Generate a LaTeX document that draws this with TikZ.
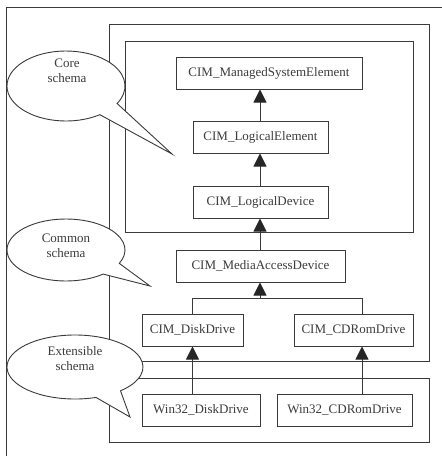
\documentclass[tikz,border=0pt]{standalone}
\usepackage{fontspec}
\setmainfont{Liberation Serif}
\usetikzlibrary{arrows.meta}
\definecolor{ink}{HTML}{3A3A3A}
\definecolor{txt}{HTML}{3C3C3C}
\tikzset{
  frame/.style={draw=ink, line width=0.9pt},
  cls/.style={draw=ink, line width=1pt, fill=white, text=txt, minimum height=32pt, inner sep=0pt,
    font=\fontsize{13}{15}\selectfont},
  conn/.style={draw=ink, line width=1pt},
  inh/.style={conn, -{Triangle[width=13pt,length=13pt]}, arrows={-{Triangle[width=13pt,length=13pt,color=black!85]}}},
  bubble/.style={draw=ink, line width=0.9pt, fill=white},
  btxt/.style={text=txt, align=center, font=\fontsize{13}{15}\selectfont, inner sep=0pt}
}
\begin{document}
\begin{tikzpicture}[x=1pt,y=-1pt]
\useasboundingbox (0,0) rectangle (442,456);
\fill[white] (0,0) rectangle (442,456);
% frames
\draw[frame] (6,470) -- (6,7) -- (460,7);
\draw[frame] (109,24) rectangle (429,361);
\draw[frame] (125,41) rectangle (413,232);
\draw[frame] (109,378) rectangle (429,442);
% classes
\node[cls, minimum width=186pt] (mse) at (269,73) {CIM\_ManagedSystemElement};
\node[cls, minimum width=135pt] (le) at (260.5,137) {CIM\_LogicalElement};
\node[cls, minimum width=135pt] (ld) at (260.5,202) {CIM\_LogicalDevice};
\node[cls, minimum width=169pt] (mad) at (260.5,266) {CIM\_MediaAccessDevice};
\node[cls, minimum width=101pt] (dd) at (192.5,330) {CIM\_DiskDrive};
\node[cls, minimum width=119pt] (cd) at (353.5,330) {CIM\_CDRomDrive};
\node[cls, minimum width=118pt] (wd) at (201,410) {Win32\_DiskDrive};
\node[cls, minimum width=135pt] (wc) at (344.5,410) {Win32\_CDRomDrive};
% connector anchors
\coordinate (ax) at (260,0);
\coordinate (cx) at (362,0);
\coordinate (bar) at (260,298);
% connectors
\draw[inh] (le.north -| ax) -- (mse.south -| ax);
\draw[inh] (ld.north -| ax) -- (le.south -| ax);
\draw[inh] (mad.north -| ax) -- (ld.south -| ax);
\draw[conn] (dd.north) |- (bar -| cx) -- (cd.north -| cx);
\draw[inh] (bar) -- (mad.south -| bar);
\draw[inh] (wd.north -| dd.south) -- (dd.south);
\draw[inh] (wc.north -| cx) -- (cd.south -| cx);
% speech bubbles
\draw[bubble] (66,86) ++(55:59 and 35) arc[start angle=55, end angle=390, x radius=59, y radius=35] -- (172,154) -- cycle;
\node[btxt] (core) at (67,71) {Core\\schema};
\draw[bubble] (66,250) ++(51:59 and 31) arc[start angle=51, end angle=385.5, x radius=59, y radius=31] -- (150,286) -- cycle;
\node[btxt] (common) at (66,246) {Common\\schema};
\draw[bubble] (75,367) ++(72:68 and 32) arc[start angle=72, end angle=408, x radius=68, y radius=32] -- (130,417) -- cycle;
\node[btxt] (ext) at (75,359) {Extensible\\schema};
\end{tikzpicture}
\end{document}
